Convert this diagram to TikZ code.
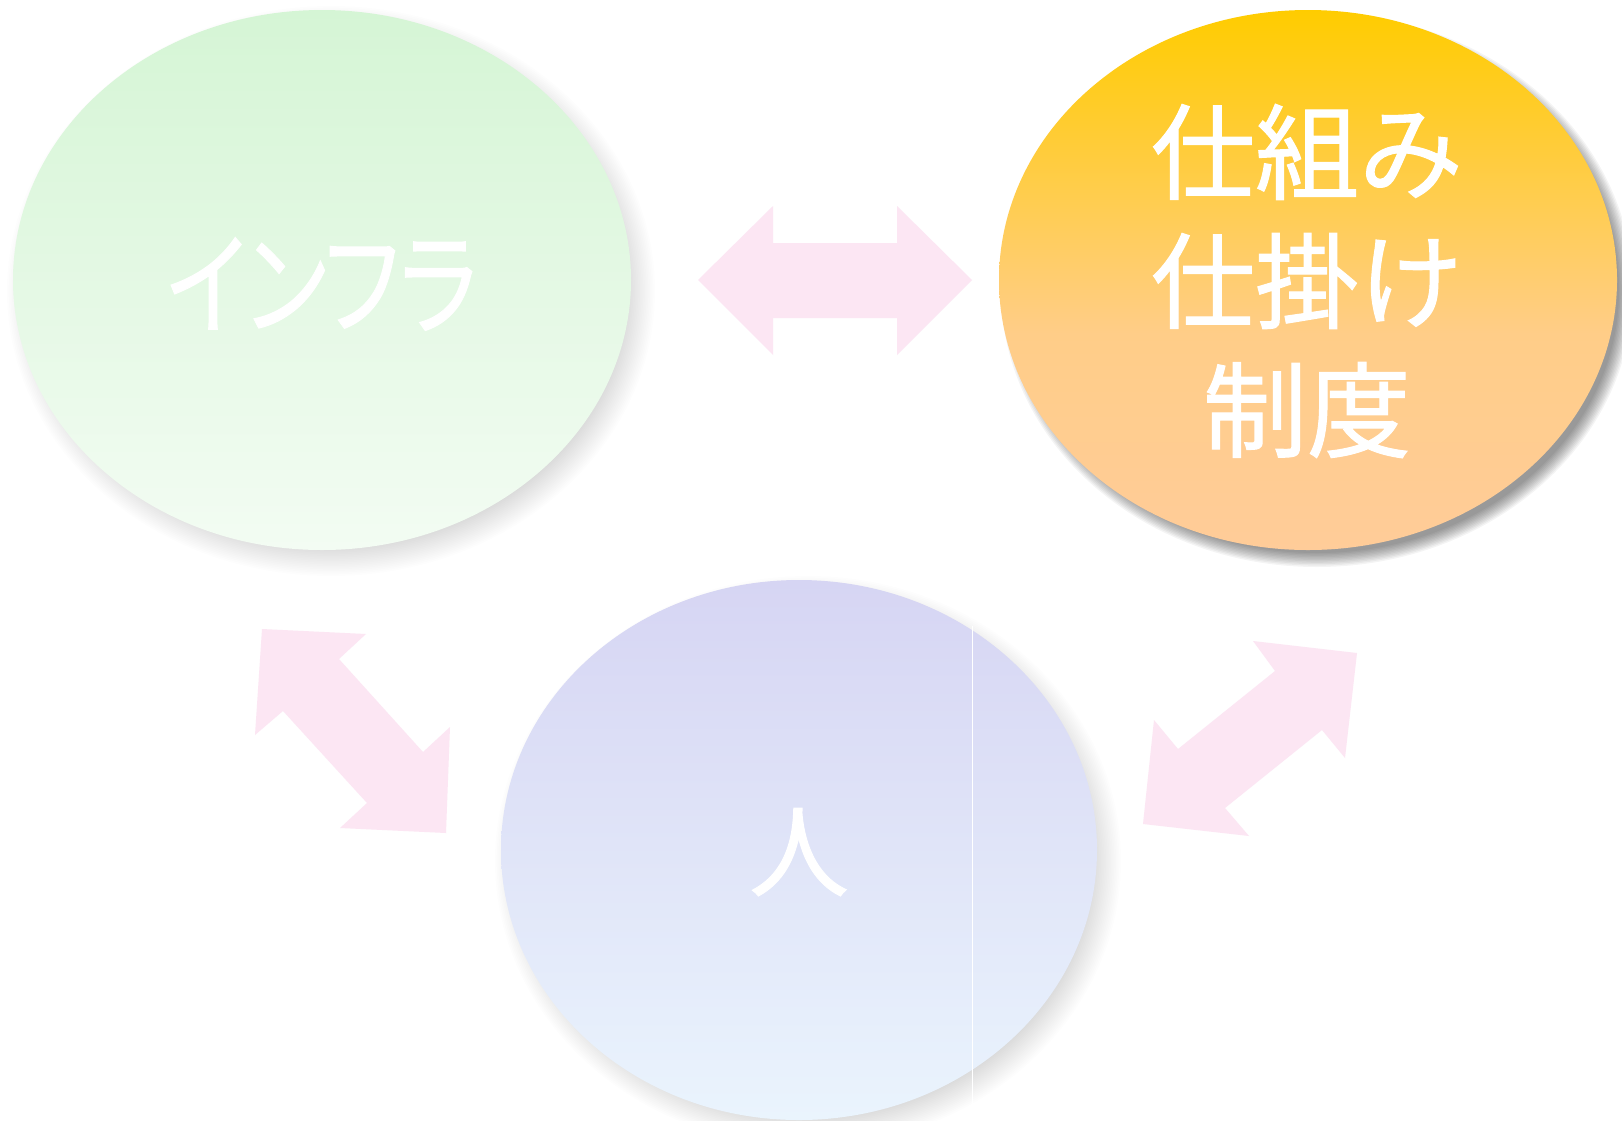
\documentclass[tikz,border=0pt]{standalone}
\usepackage{fontspec}
\newfontfamily\jp[RawFeature={embolden=1}]{Noto Sans CJK JP}
\newfontfamily\jpp[RawFeature={+palt;embolden=1}]{Noto Sans CJK JP}
\usetikzlibrary{shapes.geometric}
\definecolor{arrowpink}{HTML}{FCE6F3}
\definecolor{gtop}{HTML}{D5F5D5}
\definecolor{gbot}{HTML}{F3FCF3}
\definecolor{btop}{HTML}{D6D5F3}
\definecolor{bbot}{HTML}{EAF4FD}
\definecolor{otop}{HTML}{FFCC00}
\definecolor{omid}{HTML}{FFCD88}
\definecolor{obot}{HTML}{FFCC99}
\pgfdeclareverticalshading{greensh}{100bp}{color(0bp)=(gbot); color(25bp)=(gbot); color(75bp)=(gtop); color(100bp)=(gtop)}
\pgfdeclareverticalshading{bluesh}{100bp}{color(0bp)=(bbot); color(25bp)=(bbot); color(75bp)=(btop); color(100bp)=(btop)}
\pgfdeclareverticalshading{orangesh}{100bp}{color(0bp)=(obot); color(25bp)=(obot); color(45bp)=(omid); color(75bp)=(otop); color(100bp)=(otop)}
% soft elliptical shadow: cx, cy, rx, ry, blur, layers, opacity per layer
\newcommand\ellshadow[7]{%
  \foreach \k in {0,...,#6}{%
    \pgfmathsetmacro\dd{#5-2*#5*\k/#6}%
    \fill[black, opacity=#7] (#1,#2) ellipse [x radius=#3+\dd, y radius=#4+\dd];
  }}
\tikzset{
  blob/.style={ellipse, inner sep=0pt, outer sep=0pt, minimum width=618pt, minimum height=540pt},
  lbl/.style={text=white, inner sep=0pt, align=center, font=\jp\fontsize{104pt}{129pt}\selectfont},
  blockarrow/.style={fill=arrowpink}
}
\begin{document}
\begin{tikzpicture}[x=1pt,y=-1pt]
\useasboundingbox (0,0) rectangle (1622,1120);
\fill[white] (0,0) rectangle (1622,1120);
% shadows
\ellshadow{331}{291}{309}{270}{15}{18}{0.0065}
\ellshadow{808}{861}{298}{270}{15}{18}{0.0065}
\ellshadow{1317}{290}{309}{270}{7}{10}{0.042}
% ellipses
\node[blob, shading=greensh] (infra) at (322,280) {};
\node[blob, shading=orangesh] (shikumi) at (1308,280) {};
\node[blob, minimum width=596pt, shading=bluesh] (hito) at (799,850) {};
% artifact line
\coordinate (lt) at (972,626);
\coordinate (lb) at (972,1107);
\draw[white, line width=1pt] (lt) -- (lb);
% labels
\node[lbl] (infratxt) at (322,284) {\scalebox{0.8}[1]{\jpp\fontsize{113pt}{113pt}\selectfont インフラ}};
\node[lbl] (shikumitxt) at (1307,281) {仕組み\\仕掛け\\制度};
\node[lbl, font=\jp\fontsize{100pt}{100pt}\selectfont] (hitotxt) at (799,852) {人};
% block arrows
\fill[blockarrow] (698,280) -- (773,206) -- (773,243) -- (897,243) -- (897,206) -- (972,280) -- (897,355) -- (897,318) -- (773,318) -- (773,355) -- cycle;
\fill[blockarrow] (262,629) -- (366,634) -- (339,659) -- (423,752) -- (450,727) -- (446,833) -- (340,828) -- (367,803) -- (283,711) -- (255,735) -- cycle;
\fill[blockarrow] (1253,641) -- (1357,653) -- (1345,758) -- (1322,730) -- (1225,808) -- (1249,836) -- (1143,824) -- (1154,720) -- (1178,749) -- (1275,671) -- cycle;
\end{tikzpicture}
\end{document}
